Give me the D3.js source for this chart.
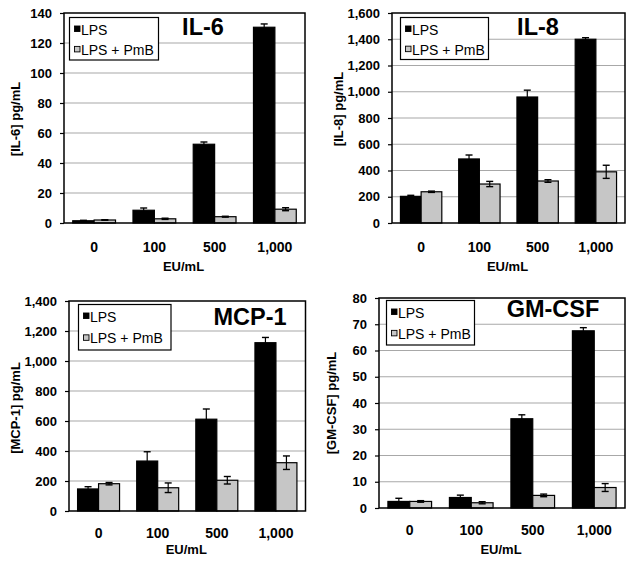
<!DOCTYPE html>
<html>
<head>
<meta charset="utf-8">
<script src="https://cdn.jsdelivr.net/npm/d3@7"></script>
<style>
  html, body { margin: 0; padding: 0; background: #fff; }
  svg { display: block; font-family: "Liberation Sans", Arial, sans-serif; }
</style>
</head>
<body>
<svg id="chart" width="638" height="563"></svg>
<script>
// ---------------- DATA ----------------
const categories = ["0", "100", "500", "1,000"];
const seriesNames = ["LPS", "LPS + PmB"];

const il6Lps = [1.5, 8.5, 52.5, 130.5];
const il6LpsErr = [0.3, 1.5, 1.5, 2.2];
const il6Pmb = [2.0, 2.8, 4.2, 9.2];
const il6PmbErr = [0.2, 0.4, 0.3, 1.0];
const il6Ticks = [0, 20, 40, 60, 80, 100, 120, 140];

const il8Lps = [203, 488, 960, 1400];
const il8LpsErr = [8, 30, 52, 12];
const il8Pmb = [238, 297, 320, 390];
const il8PmbErr = [5, 20, 10, 50];
const il8Ticks = [0, 200, 400, 600, 800, 1000, 1200, 1400, 1600];

const mcp1Lps = [147, 333, 612, 1122];
const mcp1LpsErr = [15, 62, 68, 35];
const mcp1Pmb = [182, 155, 205, 322];
const mcp1PmbErr = [8, 32, 25, 45];
const mcp1Ticks = [0, 200, 400, 600, 800, 1000, 1200, 1400];

const gmcsfLps = [2.5, 4.0, 34.0, 67.5];
const gmcsfLpsErr = [1.2, 0.9, 1.5, 1.2];
const gmcsfPmb = [2.5, 2.0, 4.8, 7.8];
const gmcsfPmbErr = [0.3, 0.4, 0.5, 1.5];
const gmcsfTicks = [0, 10, 20, 30, 40, 50, 60, 70, 80];

const titles = ["IL-6", "IL-8", "MCP-1", "GM-CSF"];
const yLabels = ["[IL-6] pg/mL", "[IL-8] pg/mL", "[MCP-1] pg/mL", "[GM-CSF] pg/mL"];
const xLabel = "EU/mL";

// ---------------- LAYOUT ----------------
const panels = [
  { title: titles[0], yLabel: yLabels[0], lps: il6Lps, lpsErr: il6LpsErr, pmb: il6Pmb, pmbErr: il6PmbErr, ticks: il6Ticks,
    box: { l: 64, r: 305, t: 13, b: 223 }, titleX: 203, titleY: 35, leg: { x: 69.5, y: 17.5, w: 89, h: 42.5 },
    yLabX: 15, yLabY: 119, xTickPad: 19, xLabY: 271 },
  { title: titles[1], yLabel: yLabels[1], lps: il8Lps, lpsErr: il8LpsErr, pmb: il8Pmb, pmbErr: il8PmbErr, ticks: il8Ticks,
    box: { l: 392, r: 625, t: 13, b: 223 }, titleX: 538, titleY: 35, leg: { x: 400.5, y: 17.5, w: 88, h: 42 },
    yLabX: 338, yLabY: 109, xTickPad: 19, xLabY: 271 },
  { title: titles[2], yLabel: yLabels[2], lps: mcp1Lps, lpsErr: mcp1LpsErr, pmb: mcp1Pmb, pmbErr: mcp1PmbErr, ticks: mcp1Ticks,
    box: { l: 69, r: 305.5, t: 301, b: 511 }, titleX: 250, titleY: 325, leg: { x: 78.5, y: 304.5, w: 92.5, h: 45.5 },
    yLabX: 15, yLabY: 408, xTickPad: 17, xLabY: 554 },
  { title: titles[3], yLabel: yLabels[3], lps: gmcsfLps, lpsErr: gmcsfLpsErr, pmb: gmcsfPmb, pmbErr: gmcsfPmbErr, ticks: gmcsfTicks,
    box: { l: 379, r: 625, t: 298, b: 508 }, titleX: 553, titleY: 317, leg: { x: 386.5, y: 300.5, w: 88, h: 44.5 },
    yLabX: 331, yLabY: 403, xTickPad: 17, xLabY: 554 }
];

const colors = { "LPS": "#000000", "LPS + PmB": "#c6c6c6" };
const svg = d3.select("#chart");

panels.forEach(p => {
  const B = p.box;
  const g = svg.append("g");
  const yMax = p.ticks[p.ticks.length - 1];
  const x = d3.scaleBand().domain(categories).range([B.l, B.r]).paddingInner(0).paddingOuter(0);
  const bw = x.bandwidth();
  const xs = d3.scaleBand().domain(seriesNames).range([bw * 0.145, bw * 0.855]).padding(0);
  const y = d3.scaleLinear().domain([0, yMax]).range([B.b, B.t]);
  const fmt = yMax >= 1000 ? d3.format(",") : d3.format("d");

  // gridlines
  g.selectAll("line.grid").data(p.ticks.filter(t => t > 0 && t < yMax)).join("line")
    .attr("class", "grid")
    .attr("x1", B.l).attr("x2", B.r)
    .attr("y1", d => y(d)).attr("y2", d => y(d))
    .attr("stroke", "#a8a8a8").attr("stroke-width", 1.2);

  // bars
  const rows = [];
  categories.forEach((c, i) => {
    rows.push({ cat: c, s: "LPS", v: p.lps[i], e: p.lpsErr[i] });
    rows.push({ cat: c, s: "LPS + PmB", v: p.pmb[i], e: p.pmbErr[i] });
  });
  const bars = g.selectAll("g.bar").data(rows).join("g").attr("class", "bar");
  bars.append("rect")
    .attr("x", d => x(d.cat) + xs(d.s))
    .attr("width", xs.bandwidth())
    .attr("y", d => y(d.v))
    .attr("height", d => y(0) - y(d.v))
    .attr("fill", d => colors[d.s])
    .attr("stroke", "#000").attr("stroke-width", 1.2);
  // error bars
  const cx = d => x(d.cat) + xs(d.s) + xs.bandwidth() / 2;
  bars.append("line")
    .attr("x1", cx).attr("x2", cx)
    .attr("y1", d => y(d.v + d.e)).attr("y2", d => y(Math.max(0, d.v - d.e)))
    .attr("stroke", "#000").attr("stroke-width", 1.2);
  bars.append("line")
    .attr("x1", d => cx(d) - 3.5).attr("x2", d => cx(d) + 3.5)
    .attr("y1", d => y(d.v + d.e)).attr("y2", d => y(d.v + d.e))
    .attr("stroke", "#000").attr("stroke-width", 1.4);
  bars.append("line")
    .attr("x1", d => cx(d) - 3.5).attr("x2", d => cx(d) + 3.5)
    .attr("y1", d => y(Math.max(0, d.v - d.e))).attr("y2", d => y(Math.max(0, d.v - d.e)))
    .attr("stroke", "#000").attr("stroke-width", 1.4);

  // plot border
  g.append("rect")
    .attr("x", B.l).attr("y", B.t).attr("width", B.r - B.l).attr("height", B.b - B.t)
    .attr("fill", "none").attr("stroke", "#000").attr("stroke-width", 1.5);

  // y axis
  const yAxis = g.append("g").attr("transform", `translate(${B.l},0)`)
    .call(d3.axisLeft(y).tickValues(p.ticks).tickFormat(fmt).tickSize(4).tickSizeOuter(0).tickPadding(8));
  yAxis.select(".domain").remove();
  yAxis.selectAll(".tick line").attr("stroke", "#000").attr("stroke-width", 1.2);
  yAxis.selectAll(".tick text").attr("font-size", 13).attr("font-weight", "bold")
    .attr("font-family", "'Liberation Sans', Arial, sans-serif").attr("fill", "#000");

  // x axis
  const xAxis = g.append("g").attr("transform", `translate(0,${B.b})`)
    .call(d3.axisBottom(x).tickSize(0).tickPadding(p.xTickPad));
  xAxis.select(".domain").remove();
  xAxis.selectAll(".tick text").attr("font-size", 14).attr("font-weight", "bold")
    .attr("font-family", "'Liberation Sans', Arial, sans-serif").attr("fill", "#000");

  // axis labels
  g.append("text")
    .attr("x", (B.l + B.r) / 2 - 1).attr("y", p.xLabY)
    .attr("text-anchor", "middle").attr("font-size", 13).attr("font-weight", "bold")
    .text(xLabel);
  g.append("text")
    .attr("transform", `translate(${p.yLabX + 4.5},${p.yLabY}) rotate(-90)`)
    .attr("text-anchor", "middle").attr("font-size", 13).attr("font-weight", "bold")
    .text(p.yLabel);

  // title
  g.append("text")
    .attr("x", p.titleX).attr("y", p.titleY)
    .attr("text-anchor", "middle").attr("font-size", 23.5).attr("font-weight", "bold")
    .text(p.title);

  // legend
  const L = p.leg;
  const lg = g.append("g");
  lg.append("rect").attr("x", L.x).attr("y", L.y).attr("width", L.w).attr("height", L.h)
    .attr("fill", "#fff").attr("stroke", "#000").attr("stroke-width", 1.2);
  const step = (L.h - 4) / 2;
  seriesNames.forEach((s, i) => {
    const cy = L.y + 11.5 + i * (L.h * 0.48);
    lg.append("rect").attr("x", L.x + 5).attr("y", cy - 3).attr("width", 5.5).attr("height", 5.5)
      .attr("fill", colors[s]).attr("stroke", "#000").attr("stroke-width", 0.9);
    lg.append("text").attr("x", L.x + 11.5).attr("y", cy + 5.5)
      .attr("font-size", 14).attr("fill", "#000").text(s);
  });
});
</script>
</body>
</html>
